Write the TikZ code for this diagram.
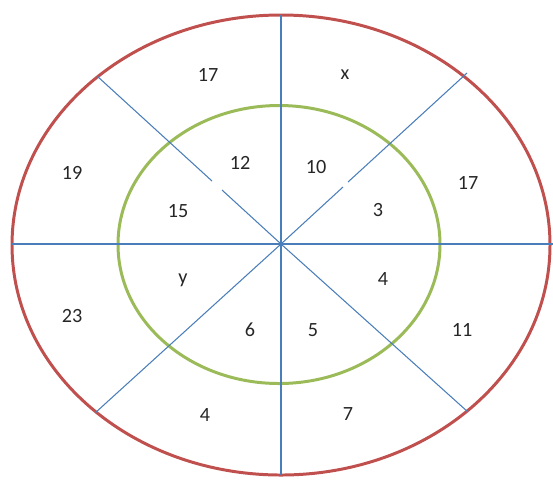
\documentclass[tikz,border=0pt]{standalone}
\usepackage{fontspec}
\setmainfont{Carlito}
\definecolor{ringred}{RGB}{192,80,77}
\definecolor{ringgreen}{RGB}{155,187,89}
\definecolor{spokeblue}{RGB}{74,126,187}

\begin{document}
\begin{tikzpicture}[
    x=0.02cm, y=-0.02cm,
    every node/.style={font=\fontsize{11.5}{13}\selectfont, text=black!85},
    ring/.style={line width=1.7pt},
    spoke/.style={color=spokeblue, line width=0.6pt},
  ]
  \useasboundingbox (0,0) rectangle (553,481);

  % Rings
  \draw[ring, color=ringred]   (281,245) ellipse [x radius=269, y radius=230];
  \draw[ring, color=ringgreen] (279,244.5) ellipse [x radius=161, y radius=139];

  % Spoke ends
  \coordinate (c)   at (281,244);
  \coordinate (top) at (281,15);
  \coordinate (bot) at (281,475);
  \coordinate (lft) at (12,244);
  \coordinate (rgt) at (553,244);
  \coordinate (ul)  at (97,76);
  \coordinate (ur)  at (467,73);
  \coordinate (ll)  at (95,413);
  \coordinate (lr)  at (468,412);
  \coordinate (ula) at (212,181);
  \coordinate (ulb) at (222,190);
  \coordinate (ura) at (348,182);
  \coordinate (urb) at (343,187);

  % Spokes
  \draw[spoke] (top) -- (bot);
  \draw[spoke] (lft) -- (rgt);
  \draw[spoke] (ul) -- (ula);
  \draw[spoke] (ulb) -- (c) -- (lr);
  \draw[spoke] (ur) -- (ura);
  \draw[spoke] (urb) -- (c) -- (ll);

  % Labels
  \node (o1) at (208,75)  {17};
  \node (o2) at (345,75)  {x};
  \node (o3) at (468,183) {17};
  \node (o4) at (462,330) {11};
  \node (o5) at (348,414) {7};
  \node (o6) at (205,415) {4};
  \node (o7) at (72,316)  {23};
  \node (o8) at (72,173)  {19};
  \node (i1) at (240,163) {12};
  \node (i2) at (316,167) {10};
  \node (i3) at (378,210) {3};
  \node (i4) at (383,279) {4};
  \node (i5) at (313,330) {5};
  \node (i6) at (250,330) {6};
  \node (i7) at (183,280) {y};
  \node (i8) at (178,211) {15};

\end{tikzpicture}
\end{document}
